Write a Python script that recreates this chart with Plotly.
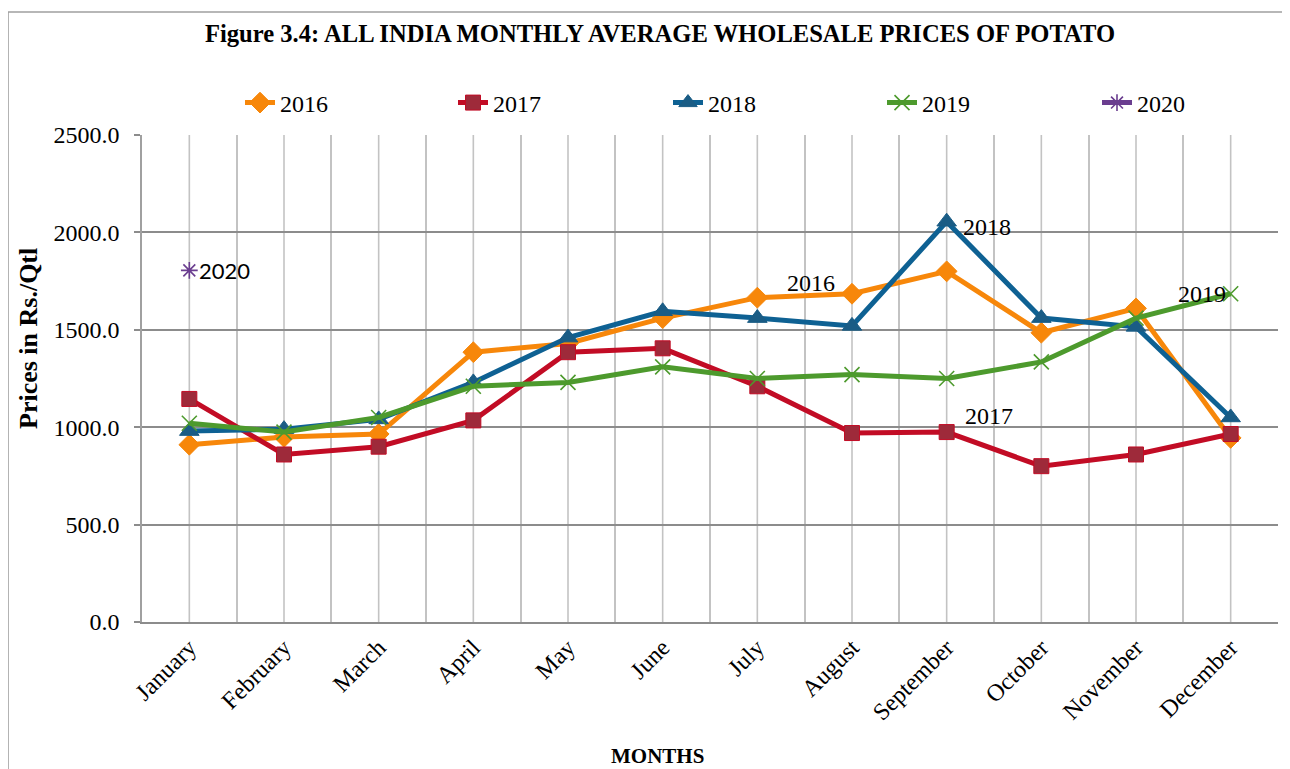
import plotly.graph_objects as go

months = ["January", "February", "March", "April", "May", "June", "July",
          "August", "September", "October", "November", "December"]

p2016 = [910, 950, 965, 1385, 1430, 1560, 1665, 1685, 1800, 1485, 1610, 945]
p2017 = [1145, 860, 900, 1035, 1385, 1405, 1210, 970, 975, 800, 860, 965]
p2018 = [980, 990, 1040, 1230, 1460, 1595, 1560, 1520, 2055, 1560, 1515, 1050]
p2019 = [1020, 975, 1050, 1210, 1230, 1310, 1250, 1270, 1250, 1335, 1560, 1685]
p2020 = [1805, None, None, None, None, None, None, None, None, None, None, None]

y_ticks = [0, 500, 1000, 1500, 2000, 2500]

SERIF = "Liberation Serif, Times New Roman, serif"

# page has an 8px body margin: convert screen pixels to figure pixels
OFF = 8
W, H = 1290 - OFF, 769 - OFF
L, R, T, B = 142 - OFF, 1278 - OFF, 135 - OFF, 622 - OFF
PW, PH = R - L, B - T

def px_x(sx):
    return (sx - OFF - L) / PW

def px_y(sy):
    return (B - (sy - OFF)) / PH

series = [
    ("2016", p2016, "#F7870A", "#F7870A", "#F7870A", "diamond", 16),
    ("2017", p2017, "#C20C25", "#9E2A3A", "#C20C25", "square", 15),
    ("2018", p2018, "#0E6193", "#1A5C85", "#1A5C85", "triangle-up", 17),
    ("2019", p2019, "#4D9A2D", "rgba(0,0,0,0)", "#4D9A2D", "x-thin", 15),
    ("2020", p2020, "#6A3D8F", "#6A3D8F", "#6A3D8F", "asterisk-open", 14),
]
legend_text_x = [280, 493, 708, 922, 1137]
legend_ids = ["legend", "legend2", "legend3", "legend4", "legend5"]

fig = go.Figure()
for (name, vals, lc, mfill, mline, sym, size), lid in zip(series, legend_ids):
    fig.add_trace(go.Scatter(
        x=months, y=vals, name=name, mode="lines+markers",
        line=dict(color=lc, width=5),
        marker=dict(symbol=sym, size=size, color=mfill,
                    line=dict(color=mline, width=1.6 if ("thin" in sym or "open" in sym) else 1)),
        connectgaps=False, legend=lid,
    ))

# vertical gridlines at category centres (boundaries come from the axis grid)
for m in months:
    fig.add_shape(type="line", xref="x", yref="paper", x0=m, x1=m, y0=0, y1=1,
                  line=dict(color="#C3C3C3", width=1.6), layer="below")

# outer chart border
fig.add_shape(type="rect", xref="paper", yref="paper",
              x0=px_x(8), x1=px_x(1310), y0=px_y(790), y1=px_y(12),
              line=dict(color="#A0A0A0", width=1.6), layer="below")

# series labels
labels = [
    ("2016", "August", p2016[7], -41, 11, SERIF, 24),
    ("2018", "September", p2018[8], 40, -5, SERIF, 24),
    ("2017", "September", p2017[8], 42, 16, SERIF, 24),
    ("2019", "December", p2019[11], -29, 0, SERIF, 24),
    ("2020", "January", p2020[0], 35, 0, "Lato, Carlito, sans-serif", 22),
]
for txt, xm, yv, dx, dy, fam, fs in labels:
    fig.add_annotation(x=xm, y=yv, text=txt, showarrow=False,
                       xshift=dx, yshift=dy,
                       font=dict(family=fam, size=fs, color="#000000"))

# axis titles
fig.add_annotation(x=px_x(657), y=px_y(756), xref="paper", yref="paper", text="<b>MONTHS</b>",
                   showarrow=False, yanchor="middle", xanchor="center",
                   font=dict(family=SERIF, size=21, color="#000000"))
fig.add_annotation(x=px_x(28), y=px_y(339), xref="paper", yref="paper",
                   text="<b>Prices in Rs./Qtl</b>", textangle=-90,
                   showarrow=False, yanchor="middle", xanchor="center",
                   font=dict(family=SERIF, size=26, color="#000000"))

legend_layout = {}
for lid, tx in zip(legend_ids, legend_text_x):
    legend_layout[lid] = dict(
        orientation="h", x=px_x(tx - 40), xanchor="left", y=px_y(103), yanchor="middle",
        font=dict(family=SERIF, size=24, color="#000000"),
        bgcolor="rgba(0,0,0,0)",
    )

fig.update_layout(
    width=W, height=H,
    margin=dict(l=L, r=W - R, t=T, b=H - B, autoexpand=False),
    paper_bgcolor="white", plot_bgcolor="white",
    title=dict(text="<b>Figure 3.4: ALL INDIA MONTHLY AVERAGE WHOLESALE PRICES OF POTATO</b>",
               x=(660 - OFF) / W, xanchor="center", y=1 - (33 - OFF) / H, yanchor="middle",
               font=dict(family=SERIF, size=24.6, color="#000000")),
    showlegend=True,
    **legend_layout,
)

fig.update_xaxes(
    type="category", categoryorder="array", categoryarray=months,
    range=[-0.5, 11.5], automargin=False,
    tickson="boundaries", showgrid=True, gridcolor="#C3C3C3", gridwidth=1.6,
    ticks="", tickangle=-45,
    tickfont=dict(family=SERIF, size=24, color="#000000"),
    showline=True, linecolor="#8C8C8C", linewidth=2,
    zeroline=False,
)
fig.update_yaxes(
    range=[0, 2500], tickvals=y_ticks, tickformat=".1f", automargin=False,
    showgrid=True, gridcolor="#8C8C8C", gridwidth=2,
    ticks="outside", ticklen=6, tickcolor="#8C8C8C", tickwidth=1.6,
    ticklabelstandoff=10,
    showline=True, linecolor="#A0A0A0", linewidth=1.6,
    tickfont=dict(family=SERIF, size=24, color="#000000"),
    zeroline=False,
)

fig.write_html("out.html")
